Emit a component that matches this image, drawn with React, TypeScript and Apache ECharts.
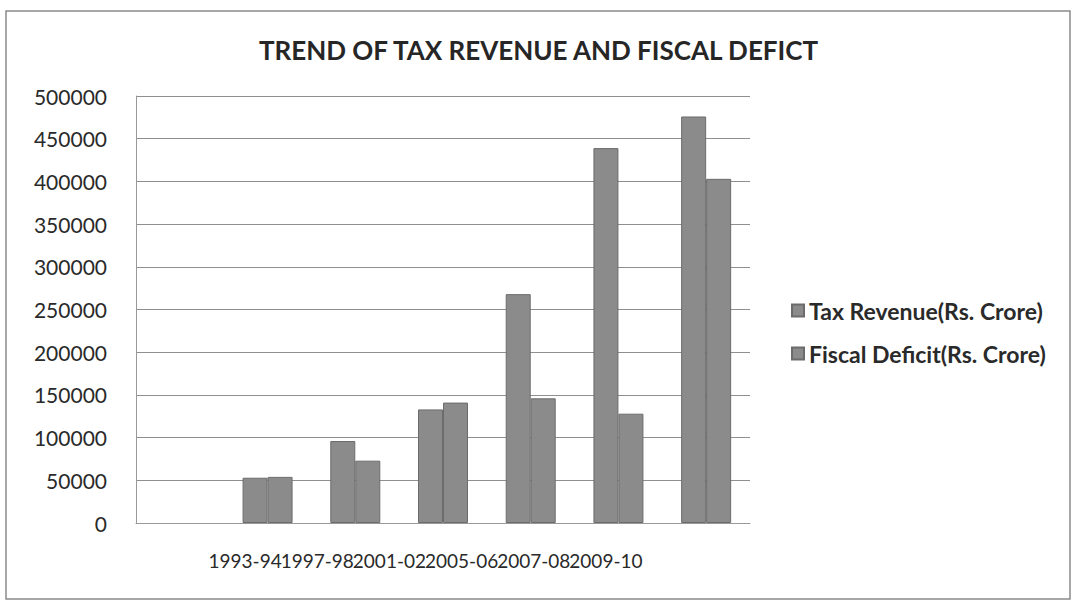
import React, { useEffect, useRef } from "react";
import * as echarts from "echarts";

const categories = ["1993-94", "1997-98", "2001-02", "2005-06", "2007-08", "2009-10"];
const taxRevenue = [53000, 96000, 133000, 268000, 439000, 476000];
const fiscalDeficit = [54000, 73000, 141000, 146000, 128000, 403000];
const seriesNames = ["Tax Revenue(Rs. Crore)", "Fiscal Deficit(Rs. Crore)"];
const titleText = "TREND OF TAX REVENUE AND FISCAL DEFICT";

const FONT = "Lato, 'Open Sans', sans-serif";

export default function App() {
  const ref = useRef<HTMLDivElement>(null);
  useEffect(() => {
    if (!ref.current) return;
    const chart = echarts.init(ref.current, undefined, { renderer: "svg" });
    const axisCats = ["", ...categories];
    const barStyle = { color: "#8b8b8b", borderColor: "#6c6c6c", borderWidth: 1 };
    chart.setOption({
      animation: false,
      backgroundColor: "#ffffff",
      title: {
        text: titleText,
        left: "center",
        top: 32,
        textStyle: { fontFamily: FONT, fontSize: 26, fontWeight: "bold", color: "#262626" },
      },
      legend: {
        orient: "vertical",
        left: 791,
        top: 299,
        padding: 0,
        itemWidth: 12,
        itemHeight: 12,
        itemGap: 20,
        icon: "rect",
        textStyle: { fontFamily: FONT, fontSize: 23, fontWeight: "bold", color: "#2a2a2a", lineHeight: 23 },
        data: seriesNames,
      },
      graphic: [
        {
          type: "rect",
          shape: { x: 6, y: 11, width: 1064, height: 588 },
          style: { fill: "none", stroke: "#8a8a8a", lineWidth: 1.5 },
          silent: true,
        },
      ],
      grid: [
        { left: 136, right: 327, top: 96, bottom: 80 },
        { left: 209, right: 435, top: 96, bottom: 80 },
      ],
      xAxis: [
        {
          type: "category",
          gridIndex: 0,
          data: axisCats,
          axisLine: { show: true, lineStyle: { color: "#999999", width: 1 } },
          axisTick: { show: false },
          axisLabel: { show: false },
        },
        {
          type: "category",
          gridIndex: 1,
          data: categories,
          axisLine: { show: false },
          axisTick: { show: false },
          axisLabel: {
            show: true,
            interval: 0,
            margin: 28,
            fontFamily: FONT,
            fontSize: 19,
            color: "#2a2a2a",
          },
        },
      ],
      yAxis: [
        {
          type: "value",
          gridIndex: 0,
          min: 0,
          max: 500000,
          interval: 50000,
          axisLine: { show: true, lineStyle: { color: "#999999", width: 1 } },
          axisTick: { show: false },
          splitLine: { show: true, lineStyle: { color: "#8f8f8f", width: 1 } },
          axisLabel: {
            margin: 29,
            fontFamily: FONT,
            fontSize: 21,
            color: "#2a2a2a",
            formatter: (v: number) => String(v),
          },
        },
        {
          type: "value",
          gridIndex: 1,
          min: 0,
          max: 1,
          show: false,
        },
      ],
      series: [
        {
          name: seriesNames[0],
          type: "bar",
          xAxisIndex: 0,
          yAxisIndex: 0,
          data: ["-", ...taxRevenue],
          barGap: "0%",
          barCategoryGap: "43%",
          itemStyle: barStyle,
        },
        {
          name: seriesNames[1],
          type: "bar",
          xAxisIndex: 0,
          yAxisIndex: 0,
          data: ["-", ...fiscalDeficit],
          barGap: "0%",
          barCategoryGap: "43%",
          itemStyle: barStyle,
        },
      ],
    });
    return () => chart.dispose();
  }, []);
  return (
    <div
      ref={ref}
      style={{ position: "absolute", left: 0, top: 0, width: 1077, height: 603 }}
    />
  );
}
